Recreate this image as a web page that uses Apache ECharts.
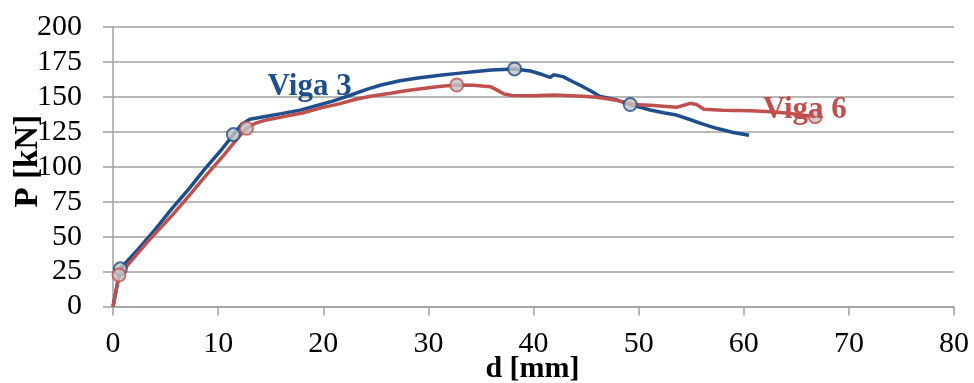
<!DOCTYPE html>
<html>
<head>
<meta charset="utf-8">
<script src="https://cdn.jsdelivr.net/npm/echarts@6/dist/echarts.min.js"></script>
<style>
  html, body { margin: 0; padding: 0; background: #fff; }
  #chart { width: 974px; height: 383px; }
</style>
</head>
<body>
<div id="chart"></div>
<script>
// Load–deflection curves of two beams: P [kN] against mid-span deflection d [mm]
const viga3D = [0, 0.7, 2.4, 4, 5.6, 7.2, 8.8, 10.3, 11.45, 12.2, 13, 14.5, 16, 17.8, 19.5, 20.9, 22.5, 24.2, 25.5, 27.3, 29, 31.1, 33, 34.3, 36, 38.2, 39.7, 40.9, 41.6, 41.9, 42.8, 43.7, 44.7, 45.5, 46.3, 47.9, 49.2, 51.1, 52.5, 53.6, 54.8, 55.9, 57.4, 59, 60.5];
const viga3P = [0, 27, 41, 55, 70, 84, 99, 112, 123, 130, 134, 136, 138, 140.5, 144, 147, 151, 155.5, 158.5, 161.5, 163.5, 165.5, 167, 168, 169.3, 170, 168.5, 165.8, 164, 165.8, 164.5, 161, 157.3, 154, 150.5, 147.8, 144.5, 140.6, 138.5, 137, 134, 131, 127.5, 124.5, 122.5];

const viga6D = [0, 0.3, 0.57, 2, 3.5, 5.6, 7.2, 8.75, 10.5, 11.8, 12.7, 13.5, 14.6, 16, 18, 20, 21.5, 23.2, 24.5, 26.4, 28, 29.5, 31, 32.7, 34.3, 35.9, 36.5, 37.2, 38, 40, 42, 44.7, 46, 47.9, 49.5, 51.1, 53.6, 54.3, 54.9, 55.5, 56.2, 58, 60.6, 62.2, 64, 65, 66.8];
const viga6P = [0, 12, 22.5, 35, 48, 65, 79, 93, 108, 120, 127.5, 131, 133.5, 135.5, 138.5, 142.5, 145, 148.5, 150.5, 152.6, 154.5, 156, 157.5, 158.5, 158.3, 157.3, 155, 152, 151, 150.8, 151.3, 150.5, 149.8, 147.5, 144.5, 144, 142.5, 144, 145.4, 144.5, 141.2, 140.5, 140, 139.5, 138.5, 137.5, 135.8];

// Highlighted points on each curve
const viga3MarkD = [0.7, 11.45, 38.2, 49.2];
const viga3MarkP = [27, 123, 170, 144.5];
const viga6MarkD = [0.57, 12.7, 32.7, 66.8];
const viga6MarkP = [22.5, 127.5, 158.5, 135.8];

// Axis ticks
const xTicks = [0, 10, 20, 30, 40, 50, 60, 70, 80];
const yTicks = [0, 25, 50, 75, 100, 125, 150, 175, 200];

// Curve captions and the data point each one starts at
const captions = ['Viga 3', 'Viga 6'];
const captionAt = [[14.7, 168], [61.8, 152]];

const BLUE = '#1f4e8c';
const RED = '#c0504d';
const FONT = '"Liberation Serif", "DejaVu Serif", serif';

const pairs = (xs, ys) => xs.map((x, i) => [x, ys[i]]);

const chart = echarts.init(document.getElementById('chart'), null, { renderer: 'canvas' });

function markerSeries(xs, ys, color) {
  return {
    type: 'scatter',
    data: pairs(xs, ys),
    symbol: 'circle',
    symbolSize: 13,
    itemStyle: { color: '#c3c3c3', borderColor: color, borderWidth: 2 },
    z: 5,
    silent: true
  };
}

chart.setOption({
  animation: false,
  backgroundColor: '#ffffff',
  grid: { left: 113, right: 20, top: 27, bottom: 76.5, containLabel: false, outerBoundsMode: 'none' },
  xAxis: {
    type: 'value',
    min: xTicks[0],
    max: xTicks[xTicks.length - 1],
    interval: xTicks[1] - xTicks[0],
    axisLine: { show: true, lineStyle: { color: '#a0a0a0', width: 1.5 } },
    axisTick: { show: true, inside: false, length: 9, lineStyle: { color: '#a0a0a0', width: 1.5 } },
    axisLabel: { fontFamily: FONT, fontSize: 30, color: '#000', margin: 23 },
    splitLine: { show: false }
  },
  yAxis: {
    type: 'value',
    min: yTicks[0],
    max: yTicks[yTicks.length - 1],
    interval: yTicks[1] - yTicks[0],
    axisLine: { show: true, lineStyle: { color: '#a0a0a0', width: 1.5 } },
    axisTick: { show: true, inside: false, length: 10, lineStyle: { color: '#a0a0a0', width: 1.5 } },
    axisLabel: { fontFamily: FONT, fontSize: 30, color: '#000', margin: 31 },
    splitLine: { show: true, lineStyle: { color: '#a0a0a0', width: 1.5 } }
  },
  series: [
    {
      name: captions[0],
      type: 'line',
      data: pairs(viga3D, viga3P),
      showSymbol: false,
      lineStyle: { color: BLUE, width: 3.5 },
      z: 2,
      silent: true
    },
    {
      name: captions[1],
      type: 'line',
      data: pairs(viga6D, viga6P),
      showSymbol: false,
      lineStyle: { color: RED, width: 3.5 },
      z: 3,
      silent: true
    },
    markerSeries(viga3MarkD, viga3MarkP, BLUE),
    markerSeries(viga6MarkD, viga6MarkP, RED)
  ]
});

// Captions and axis titles, placed through the chart's own scales
const capColors = [BLUE, RED];
const graphics = captions.map((text, i) => {
  const p = chart.convertToPixel({ gridIndex: 0 }, captionAt[i]);
  return {
    type: 'text',
    x: p[0],
    y: p[1],
    z: 10,
    style: {
      text: text,
      font: 'bold 31px ' + FONT,
      fill: capColors[i],
      textAlign: 'left',
      textVerticalAlign: 'top'
    }
  };
});

const yMid = chart.convertToPixel({ yAxisIndex: 0 }, 104);
graphics.push({
  type: 'text',
  x: 28,
  y: yMid,
  rotation: Math.PI / 2,
  style: {
    text: 'P [kN]',
    font: 'bold 33px ' + FONT,
    fill: '#000',
    textAlign: 'center',
    textVerticalAlign: 'middle'
  }
});

const xMid = chart.convertToPixel({ xAxisIndex: 0 }, 40);
const xAxisY = chart.convertToPixel({ yAxisIndex: 0 }, 0);
graphics.push({
  type: 'text',
  x: xMid - 1,
  y: xAxisY + 63,
  style: {
    text: 'd [mm]',
    font: 'bold 30px ' + FONT,
    fill: '#000',
    textAlign: 'center',
    textVerticalAlign: 'middle'
  }
});
chart.setOption({ graphic: graphics });
</script>
</body>
</html>
